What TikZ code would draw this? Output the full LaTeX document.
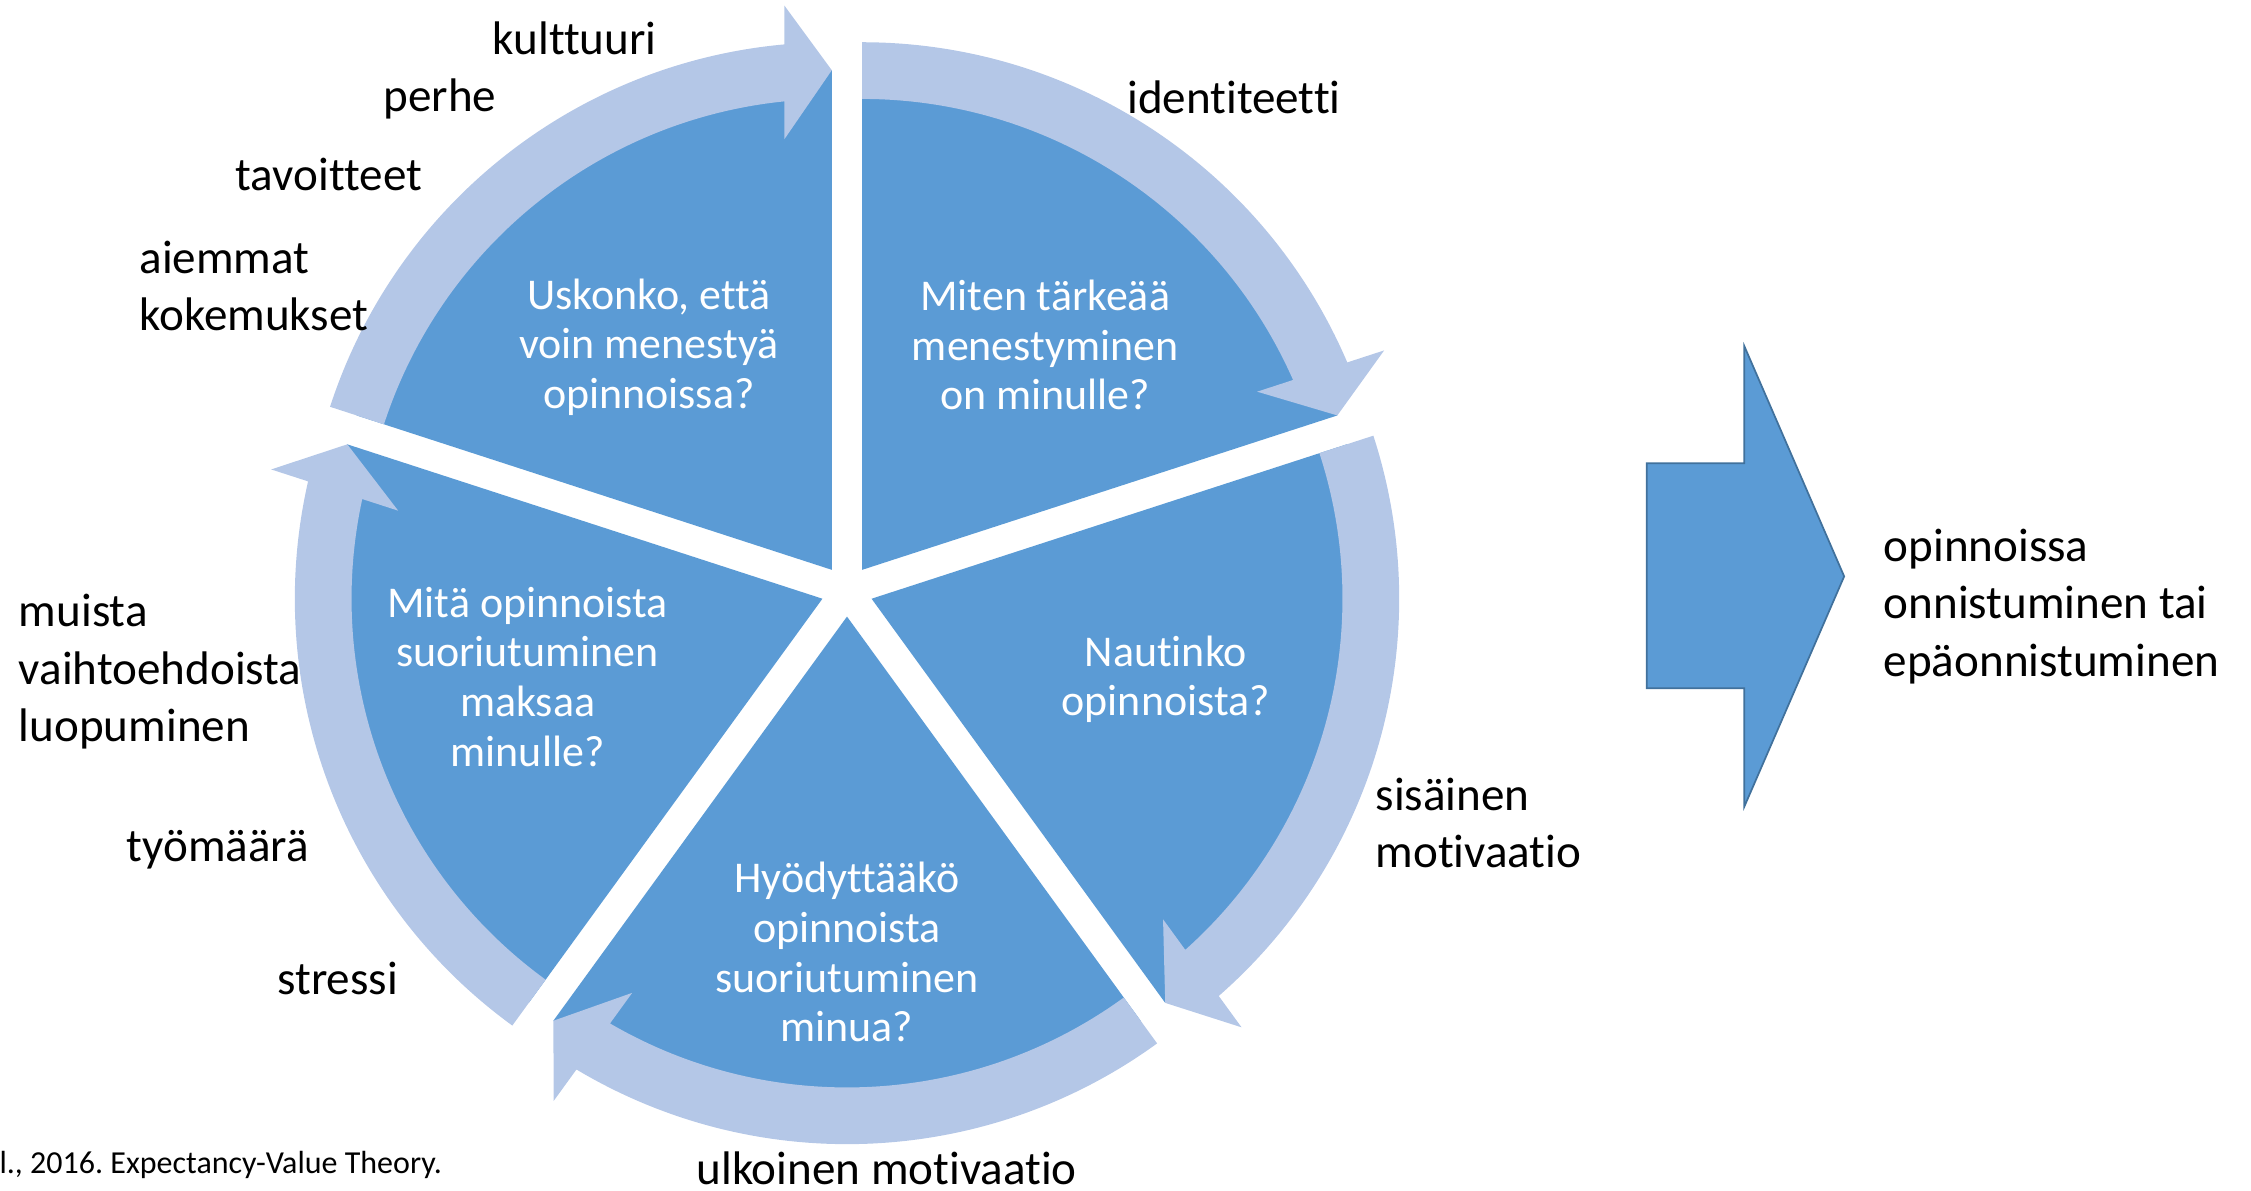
\documentclass[tikz,border=0pt]{standalone}
\usepackage{fontspec}
\setmainfont{Carlito}[Ligatures={NoCommon,NoContextual}]
\frenchspacing
\definecolor{piecol}{HTML}{5B9BD5}
\definecolor{ringcol}{HTML}{B4C7E7}
\definecolor{edgecol}{HTML}{41719C}
\begin{document}
\begin{tikzpicture}[x=1pt,y=1pt,
  outer/.style={inner sep=0pt, align=left, font=\fontsize{32.8}{40}\selectfont, text=black},
  inner/.style={inner sep=0pt, align=center, font=\fontsize{30.6}{34.6}\selectfont, text=white},
  wedge/.style={fill=piecol},
  ringarrow/.style={fill=ringcol}]
\useasboundingbox (0,0) rectangle (1568,829);
\coordinate (C) at (590,417.5);
% pie wedges, each pushed 18 units outward along its bisector
\foreach \B in {90,18,-54,-126,-198}{
  \begin{scope}[shift={(C)}, rotate=\B, shift={(36:18)}]
    \fill[wedge] (0,0) -- (0:348) arc[start angle=0, end angle=72, radius=348] -- cycle;
  \end{scope}
}
% circular arrows, clockwise
\foreach \B in {90,18,-54,-126,-198}{
  \begin{scope}[shift={(C)}, rotate=\B, shift={(36:18)}]
    \fill[ringarrow] (72:367.5) arc[start angle=72, end angle=5.15, radius=367.5]
      -- (393,33) -- (348,0) -- (300,33) -- (5.78:328)
      arc[start angle=5.78, end angle=72, radius=328] -- cycle;
  \end{scope}
}
% segment texts
\node[inner] (q1) at (452,586) {\strut Uskonko, että\\\strut voin menestyä\\\strut opinnoissa?};
\node[inner] (q2) at (728,585) {\strut Miten tärkeää\\\strut menestyminen\\\strut on minulle?};
\node[inner] (q3) at (812,354.5) {\strut Nautinko\\\strut opinnoista?};
\node[inner] (q4) at (590,162) {\strut Hyödyttääkö\\\strut opinnoista\\\strut suoriutuminen\\\strut minua?};
\node[inner] (q5) at (367.5,354) {\strut Mitä opinnoista\\\strut suoriutuminen\\\strut maksaa\\\strut minulle?};
% outer labels
\node[outer, anchor=west] (kult) at (343,799) {\strut kulttuuri};
\node[outer, anchor=west] (perhe) at (267,759) {\strut perhe};
\node[outer, anchor=west] (tav) at (164,704.5) {\strut tavoitteet};
\node[outer, anchor=west] (aiem) at (97,626.5) {\strut aiemmat\\\strut kokemukset};
\node[outer, anchor=west] (ident) at (785,758) {\strut identiteetti};
\node[outer, anchor=west] (muista) at (13,360.5) {\strut muista\\\strut vaihtoehdoista\\\strut luopuminen};
\node[outer, anchor=west] (tyo) at (88,237) {\strut työmäärä};
\node[outer, anchor=west] (stressi) at (193,144.5) {\strut stressi};
\node[outer, anchor=west] (sis) at (958,252.5) {\strut sisäinen\\\strut motivaatio};
\node[outer, anchor=base west] (ulk) at (485,4) {ulkoinen motivaatio};
% result arrow
\filldraw[fill=piecol, draw=edgecol, line width=1.2pt]
  (1147,349.5) -- (1147,506.3) -- (1215,506.3) -- (1215,588) -- (1284.6,427.5)
  -- (1215,267) -- (1215,349.5) -- cycle;
\node[outer, anchor=west] (result) at (1312,406) {\strut opinnoissa\\\strut onnistuminen tai\\\strut epäonnistuminen};
% source line
\node[inner sep=0pt, anchor=west, font=\fontsize{22.3}{26}\selectfont] (src) at (-0.5,17) {\strut l., 2016. Expectancy-Value Theory.};
\end{tikzpicture}
\end{document}
